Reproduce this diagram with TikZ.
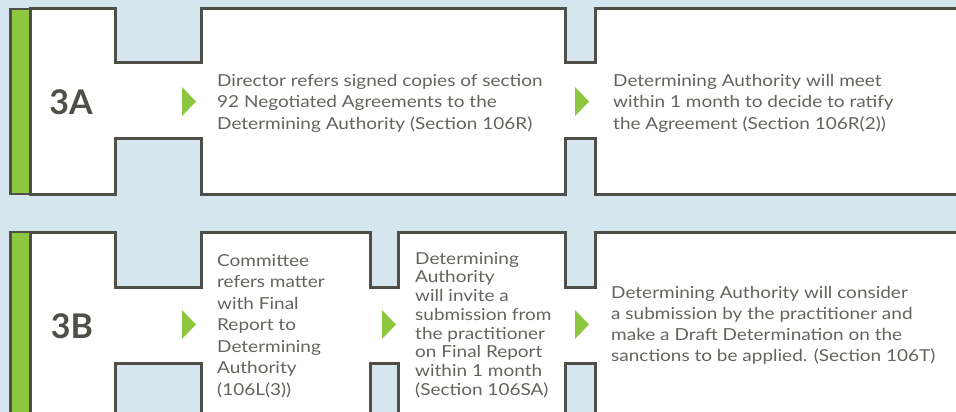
\documentclass[tikz,border=0pt]{standalone}
\usepackage{fontspec}
\setmainfont{Lato}
\newfontfamily\notefont{Lato}[FakeStretch=1.15]
\definecolor{sky}{HTML}{D6E6EF}
\definecolor{frame}{HTML}{4F4F47}
\definecolor{leaf}{HTML}{8DC63F}
\definecolor{ink}{HTML}{64645E}
\tikzstyle{outline}=[draw=frame,line width=3pt,fill=white]
\tikzstyle{stage}=[font=\bfseries\fontsize{34}{34}\selectfont,text=frame,inner sep=0pt]
\newcommand{\pointer}[2]{\fill[leaf] (#1,#2) ++(0,-14.5) -- ++(0,29) -- ++(14,-14.5) -- cycle;}

\begin{document}
\begin{tikzpicture}[x=1pt,y=-1pt]
    % fundo azul claro
    \fill[sky] (0,0) rectangle (956,412);
    \useasboundingbox (0,0) rectangle (956,412);
    \tikzstyle{note}=[anchor=north west,inner sep=0pt,align=left,text=ink,font=\notefont\fontsize{16.5}{21.5}\selectfont]

    % linha 3A
    \draw[outline] (30.5,9) -| (115,63) -| (201.5,9) -| (565,63) -| (595,9) -| (957.5,63) -- (975,63)
        -- (975,138.5) -- (957.5,138.5) |- (595,194) |- (565,138.5) |- (201.5,194) |- (115,138.5) |- (30.5,194) -- cycle;
    \draw[draw=frame,line width=2.8pt,fill=leaf] (10.3,9) rectangle (30.5,194);

    % linha 3B
    \draw[outline] (30.5,232) -| (115,287) -| (201.5,232) -| (370,287) -| (398,232) -| (565,287) -| (595,232) -| (957.5,287) -- (975,287)
        -- (975,363) -- (957.5,363) |- (595,418) |- (565,363) |- (398,418) |- (370,363) |- (201.5,418) |- (115,363) |- (30.5,418) -- cycle;
    \draw[draw=frame,line width=2.8pt,fill=leaf] (10.3,232) rectangle (30.5,418);

    \node[stage] (stageA) at (71,102.5) {3A};
    \node[stage] (stageB) at (72,326) {3B};

    \node[note] (refer) at (217,74) {Director refers signed copies of section\\92 Negotiated Agreements to the\\Determining Authority (Section 106R)};
    \node[note] (ratify) at (613,74) {Determining Authority will meet\\within 1 month to decide to ratify\\the Agreement (Section 106R(2))};

    \node[note] (committee) at (217,254) {Committee\\refers matter\\with Final\\Report to\\Determining\\Authority\\(106L(3))};
    \node[note,font=\notefont\fontsize{16.5}{18.7}\selectfont] (invite) at (415,252) {Determining\\Authority\\will invite a\\submission from\\the practitioner\\on Final Report\\within 1 month\\(Section 106SA)};
    \node[note,font=\notefont\fontsize{16.5}{21}\selectfont] (draft) at (611,286) {Determining Authority will consider\\a submission by the practitioner and\\make a Draft Determination on the\\sanctions to be applied. (Section 106T)};

    % setas verdes
    \pointer{182}{101.5}
    \pointer{575}{101.5}
    \pointer{182}{324.5}
    \pointer{382}{324.5}
    \pointer{575}{324.5}
\end{tikzpicture}
\end{document}
